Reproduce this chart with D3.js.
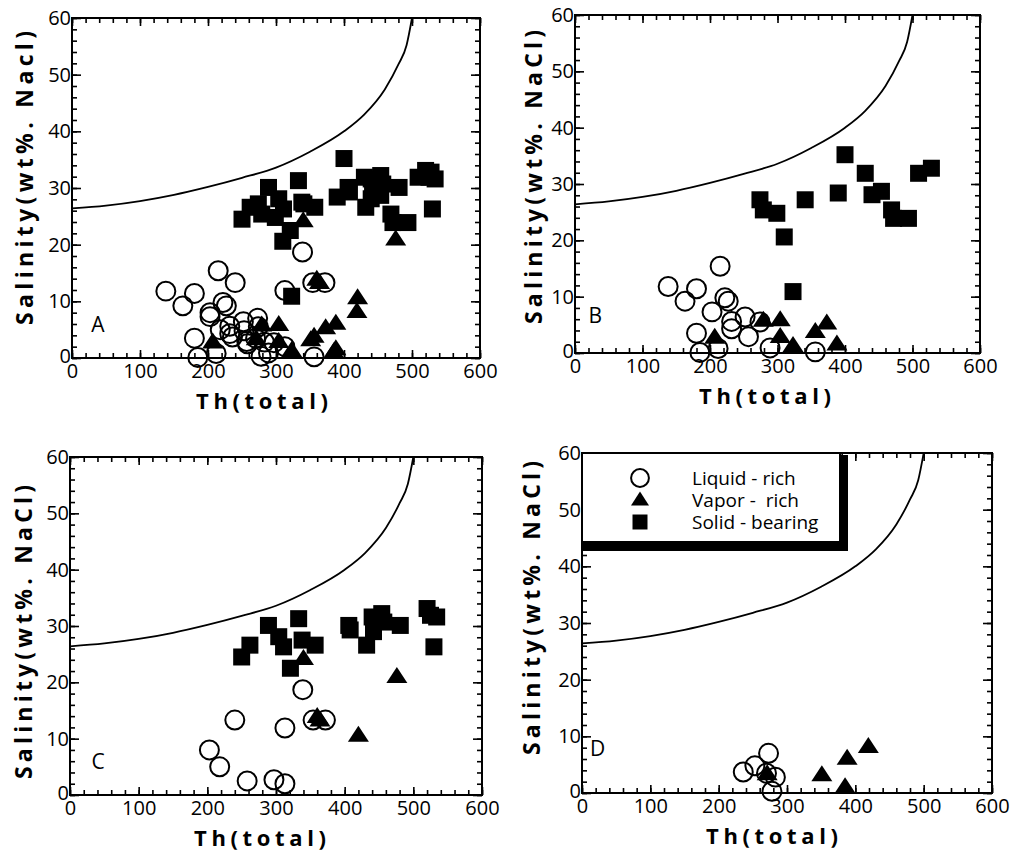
<!DOCTYPE html>
<html>
<head>
<meta charset="utf-8">
<script src="https://cdn.jsdelivr.net/npm/d3@7"></script>
<style>
  body { margin: 0; background: #fff; }
  text { font-family: "Open Sans", "Liberation Sans", sans-serif; }
</style>
</head>
<body>
<div id="chart"></div>
<script>
// tick labels
const xTicks = [0, 100, 200, 300, 400, 500, 600];
const yTicks = [0, 10, 20, 30, 40, 50, 60];

// halite saturation curve
const curveTh = [0, 50, 100, 150, 200, 250, 300, 350, 400, 430, 460, 480, 492, 500];
const curveSal = [26.4, 26.9, 27.7, 28.8, 30.2, 31.8, 33.6, 36.4, 40.0, 43.0, 47.4, 51.8, 55.2, 60];

// panel B
const liquidB = [[138, 11.8], [163, 9.2], [180, 11.4], [180, 3.5], [185, 0.1], [203, 7.3], [215, 15.4],
  [212, 0.8], [222, 9.8], [227, 9.2], [232, 5.6], [232, 4.3], [252, 6.4], [257, 2.9], [274, 5.5],
  [289, 0.9], [356, 0.2]];
const vaporB = [[207, 2.8], [279, 5.8], [304, 5.9], [304, 2.9], [323, 1.3], [356, 3.8], [373, 5.3], [388, 1.6]];
const solidB = [[274, 27.2], [279, 25.4], [299, 24.8], [310, 20.6], [323, 10.9], [341, 27.2], [400, 35.2],
  [390, 28.4], [430, 31.9], [440, 28.1], [454, 28.7], [469, 25.4], [472, 23.9], [494, 23.9], [509, 31.9], [528, 32.8]];

// panel C
const liquidC = [[203, 8.0], [218, 5.0], [240, 13.3], [258, 2.5], [297, 2.7], [313, 2.0], [313, 11.9],
  [339, 18.7], [354, 13.3], [372, 13.3]];
const vaporC = [[340, 24.2], [360, 13.9], [364, 13.3], [420, 10.6], [476, 21.0]];
const solidC = [[250, 24.5], [262, 26.6], [289, 30.1], [304, 28.1], [311, 26.3], [321, 22.5], [333, 31.3],
  [338, 27.5], [357, 26.6], [406, 30.1], [408, 29.3], [432, 26.6], [440, 31.6], [442, 29.0], [454, 32.2],
  [457, 30.7], [481, 30.1], [520, 33.1], [525, 31.9], [534, 31.6], [530, 26.3]];

// panel D
const liquidD = [[236, 3.7], [253, 4.8], [273, 7.0], [270, 3.5], [283, 2.8], [278, 0.3]];
const vaporD = [[271, 3.4], [351, 3.2], [388, 6.1], [385, 1.1], [419, 8.2]];
const solidD = [];

const legendLabels = ["Liquid - rich", "Vapor -  rich", "Solid - bearing"];

const W = 1018, H = 860;

const panels = [
  { letter: "A", left: 72, top: 18, right: 480, bottom: 358, yTitle: "Salinity(wt%. Nacl)",
    liquid: liquidB.concat(liquidC, liquidD), vapor: vaporB.concat(vaporC, vaporD), solid: solidB.concat(solidC, solidD),
    letterAt: [38, 5.8], yTitleX: 33, yTitleY: 178 },
  { letter: "B", left: 575, top: 15, right: 980, bottom: 353, yTitle: "Salinity(wt%. NaCl)",
    liquid: liquidB, vapor: vaporB, solid: solidB, letterAt: [30, 6.7], yTitleX: 542, yTitleY: 177 },
  { letter: "C", left: 70, top: 457, right: 482, bottom: 795, yTitle: "Salinity(wt%. NaCl)",
    liquid: liquidC, vapor: vaporC, solid: solidC, letterAt: [41, 5.9], yTitleX: 32, yTitleY: 632 },
  { letter: "D", left: 582, top: 453, right: 992, bottom: 793, yTitle: "Salinity(wt%. NaCl)",
    liquid: liquidD, vapor: vaporD, solid: solidD, letterAt: [23, 7.9], yTitleX: 540, yTitleY: 608, legend: true }
];

// wide, flat triangle like the original marker
function triPath(w, h) {
  return `M0,${-h * 0.6}L${w / 2},${h * 0.4}L${-w / 2},${h * 0.4}Z`;
}

const svg = d3.select("#chart").append("svg")
  .attr("width", W)
  .attr("height", H);

const circleSym = d3.symbol().type(d3.symbolCircle).size(283);
const squareSym = d3.symbol().type(d3.symbolSquare).size(289);

panels.forEach(p => {
  const x = d3.scaleLinear().domain([0, 600]).range([p.left, p.right]);
  const y = d3.scaleLinear().domain([0, 60]).range([p.bottom, p.top]);
  const g = svg.append("g");

  // minor ticks, all four sides, pointing inward
  const minorX = d3.range(0, 601, 20), minorY = d3.range(0, 61, 2);
  g.append("g").attr("transform", `translate(0,${p.bottom})`)
    .call(d3.axisBottom(x).tickValues(minorX).tickSize(-5).tickFormat(""));
  g.append("g").attr("transform", `translate(0,${p.top})`)
    .call(d3.axisTop(x).tickValues(minorX).tickSize(-5).tickFormat(""));
  g.append("g").attr("transform", `translate(${p.left},0)`)
    .call(d3.axisLeft(y).tickValues(minorY).tickSize(-5).tickFormat(""));
  g.append("g").attr("transform", `translate(${p.right},0)`)
    .call(d3.axisRight(y).tickValues(minorY).tickSize(-5).tickFormat(""));

  // major ticks with labels
  g.append("g").attr("class", "xaxis").attr("transform", `translate(0,${p.bottom})`)
    .call(d3.axisBottom(x).tickValues(xTicks).tickSize(-8).tickPadding(6));
  g.append("g").attr("class", "yaxis").attr("transform", `translate(${p.left},0)`)
    .call(d3.axisLeft(y).tickValues(yTicks).tickSize(-9).tickPadding(1));
  g.append("g").attr("transform", `translate(0,${p.top})`)
    .call(d3.axisTop(x).tickValues(xTicks).tickSize(-8).tickFormat(""));
  g.append("g").attr("transform", `translate(${p.right},0)`)
    .call(d3.axisRight(y).tickValues(yTicks).tickSize(-9).tickFormat(""));

  g.selectAll(".domain").remove();
  g.selectAll(".tick line").attr("stroke", "#000").attr("stroke-width", 1.6);
  g.selectAll(".tick text").attr("font-size", 20).attr("fill", "#000")
    .attr("font-family", "'Open Sans', sans-serif");
  // lift the y "0" a touch off the x "0"
  g.select(".yaxis").selectAll(".tick text").filter(d => d === 0).attr("dy", "0.2em");

  // frame
  g.append("rect")
    .attr("x", p.left).attr("y", p.top)
    .attr("width", p.right - p.left).attr("height", p.bottom - p.top)
    .attr("fill", "none").attr("stroke", "#000").attr("stroke-width", 2);

  // saturation curve
  const line = d3.line()
    .x((d, i) => x(curveTh[i]))
    .y(d => y(d))
    .curve(d3.curveMonotoneX);
  g.append("path").datum(curveSal)
    .attr("d", line)
    .attr("fill", "none").attr("stroke", "#000").attr("stroke-width", 1.8);

  // markers
  g.append("g").selectAll("path").data(p.solid).join("path")
    .attr("d", squareSym)
    .attr("transform", d => `translate(${x(d[0])},${y(d[1])})`)
    .attr("fill", "#000");
  g.append("g").selectAll("path").data(p.liquid).join("path")
    .attr("d", circleSym)
    .attr("transform", d => `translate(${x(d[0])},${y(d[1])})`)
    .attr("fill", "none").attr("stroke", "#000").attr("stroke-width", 2);
  g.append("g").selectAll("path").data(p.vapor).join("path")
    .attr("d", triPath(21, 16))
    .attr("transform", d => `translate(${x(d[0])},${y(d[1])})`)
    .attr("fill", "#000");

  // panel letter
  g.append("text")
    .attr("x", x(p.letterAt[0])).attr("y", y(p.letterAt[1]))
    .attr("dy", "0.35em").attr("text-anchor", "middle")
    .attr("font-size", 21).text(p.letter);

  // axis titles
  g.append("text")
    .attr("x", p.left + 190).attr("y", p.bottom + 51)
    .attr("text-anchor", "middle")
    .attr("font-size", 22).attr("font-weight", 700)
    .attr("textLength", 132).attr("lengthAdjust", "spacing")
    .text("Th(total)");
  g.append("text")
    .attr("transform", `translate(${p.yTitleX},${p.yTitleY}) rotate(-90)`)
    .attr("text-anchor", "middle")
    .attr("font-size", 23).attr("font-weight", 700)
    .attr("textLength", 294).attr("lengthAdjust", "spacing")
    .text(p.yTitle);

  if (p.legend) {
    const lg = g.append("g");
    lg.append("rect").attr("x", p.left).attr("y", p.top + 2)
      .attr("width", 266).attr("height", 96).attr("fill", "#000");
    lg.append("rect").attr("x", p.left).attr("y", p.top)
      .attr("width", 258).attr("height", 89)
      .attr("fill", "#fff").attr("stroke", "#000").attr("stroke-width", 2);
    const syms = [
      d3.symbol().type(d3.symbolCircle).size(250)(),
      triPath(18, 14),
      d3.symbol().type(d3.symbolSquare).size(225)()
    ];
    legendLabels.forEach((lab, i) => {
      const cy = p.top + 25 + i * 22;
      lg.append("path").attr("d", syms[i])
        .attr("transform", `translate(${p.left + 58},${cy})`)
        .attr("fill", i === 0 ? "none" : "#000")
        .attr("stroke", i === 0 ? "#000" : "none").attr("stroke-width", 2);
      lg.append("text").attr("x", p.left + 110).attr("y", cy)
        .attr("dy", "0.35em").attr("font-size", 19)
        .style("white-space", "pre")
        .text(lab);
    });
  }
});
</script>
</body>
</html>
